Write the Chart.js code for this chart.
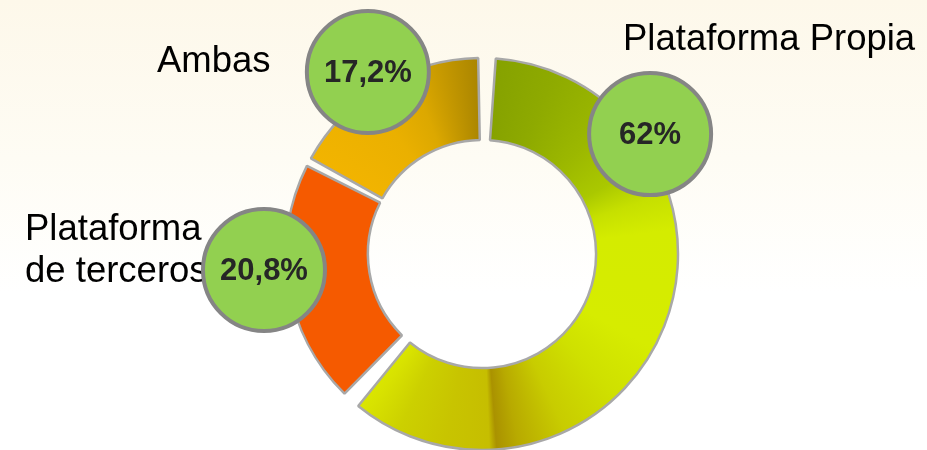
<!DOCTYPE html>
<html>
<head>
<meta charset="utf-8">
<script src="https://cdn.jsdelivr.net/npm/chart.js@4.4.1/dist/chart.umd.min.js"></script>
<style>
  html, body { margin: 0; padding: 0; }
  body { width: 927px; height: 450px; overflow: hidden;
         background: linear-gradient(to bottom, #fdf8ea 0%, #fefcf4 35%, #ffffff 65%, #ffffff 100%); }
  #wrap { position: relative; width: 927px; height: 450px; }
</style>
</head>
<body>
<div id="wrap"><canvas id="c"></canvas></div>
<script>
// ---- data ----
const categories = [['Plataforma Propia'], ['Plataforma', 'de terceros'], ['Ambas']];
const shares = [62, 20.8, 17.2];

// ---- styling (kept apart from data) ----
const ringStops = [
  [0.000, '#84a000'], [0.060, '#8eaa00'], [0.120, '#9cb800'], [0.170, '#aac800'],
  [0.200, '#c6e000'], [0.230, '#d4ec00'], [0.330, '#d6ec00'], [0.380, '#cfe000'],
  [0.430, '#c8cc00'], [0.470, '#b8aa00'], [0.488, '#aa9200'], [0.494, '#c6be00'],
  [0.530, '#c8c400'], [0.570, '#ccd000'], [0.600, '#d8e200'], [0.619, '#dcea00'],
  [0.621, '#f55a00'], [0.826, '#f55a00'],
  [0.830, '#f2b400'], [0.900, '#eab000'], [0.940, '#dca800'], [0.970, '#c29600'], [1.000, '#a88400']
];
const bubbleSpots = [ // polar placement around the ring centre (deg from north, px)
  { angle: 54.5, dist: 206.5 },
  { angle: 265.8, dist: 218.6 },
  { angle: 327.9, dist: 214.8 }
];
const labelSpots = [
  { x: 623, y: 50 },
  { x: 25, y: 240 },
  { x: 157, y: 72 }
];

function ringCentre(chart) {
  const a = chart.chartArea;
  return { x: (a.left + a.right) / 2, y: (a.top + a.bottom) / 2 };
}

function ringFill(ctx) {
  const chart = ctx.chart;
  const a = chart.chartArea;
  if (!a || !isFinite(a.left) || !isFinite(a.top)) return '#c8d800';
  const c = ringCentre(chart);
  const g = chart.ctx.createConicGradient(-Math.PI / 2, c.x, c.y);
  ringStops.forEach(s => g.addColorStop(s[0], s[1]));
  return g;
}

const overlay = {
  id: 'overlay',
  afterDraw(chart) {
    const ctx = chart.ctx;
    const c = ringCentre(chart);
    ctx.save();
    // category labels
    ctx.fillStyle = '#000000';
    ctx.font = '36.5px "Liberation Sans", Arial, sans-serif';
    ctx.textAlign = 'left';
    ctx.textBaseline = 'alphabetic';
    chart.data.labels.forEach((lines, i) => {
      lines.forEach((t, k) => ctx.fillText(t, labelSpots[i].x, labelSpots[i].y + k * 42));
    });
    // value bubbles
    chart.data.datasets[0].data.forEach((v, i) => {
      const a = bubbleSpots[i].angle * Math.PI / 180;
      const bx = c.x + Math.sin(a) * bubbleSpots[i].dist;
      const by = c.y - Math.cos(a) * bubbleSpots[i].dist;
      ctx.beginPath();
      ctx.arc(bx, by, 61, 0, Math.PI * 2);
      ctx.fillStyle = '#92d050';
      ctx.fill();
      ctx.lineWidth = 4;
      ctx.strokeStyle = '#858585';
      ctx.stroke();
      ctx.fillStyle = '#262626';
      ctx.font = 'bold 31px "Liberation Sans", Arial, sans-serif';
      ctx.textAlign = 'center';
      ctx.textBaseline = 'middle';
      ctx.fillText(String(v).replace('.', ',') + '%', bx, by + 1);
    });
    ctx.restore();
  }
};

new Chart(document.getElementById('c'), {
  type: 'doughnut',
  data: {
    labels: categories,
    datasets: [{
      data: shares,
      backgroundColor: ringFill,
      borderColor: '#a8a8a8',
      borderWidth: 2.5,
      spacing: 11
    }]
  },
  options: {
    responsive: true,
    maintainAspectRatio: false,
    animation: false,
    radius: 190.5,
    cutout: '57%',
    layout: { padding: { left: 37, top: 58, right: 0, bottom: 0 } },
    plugins: { legend: { display: false }, tooltip: { enabled: false } }
  },
  plugins: [overlay]
});
</script>
</body>
</html>
